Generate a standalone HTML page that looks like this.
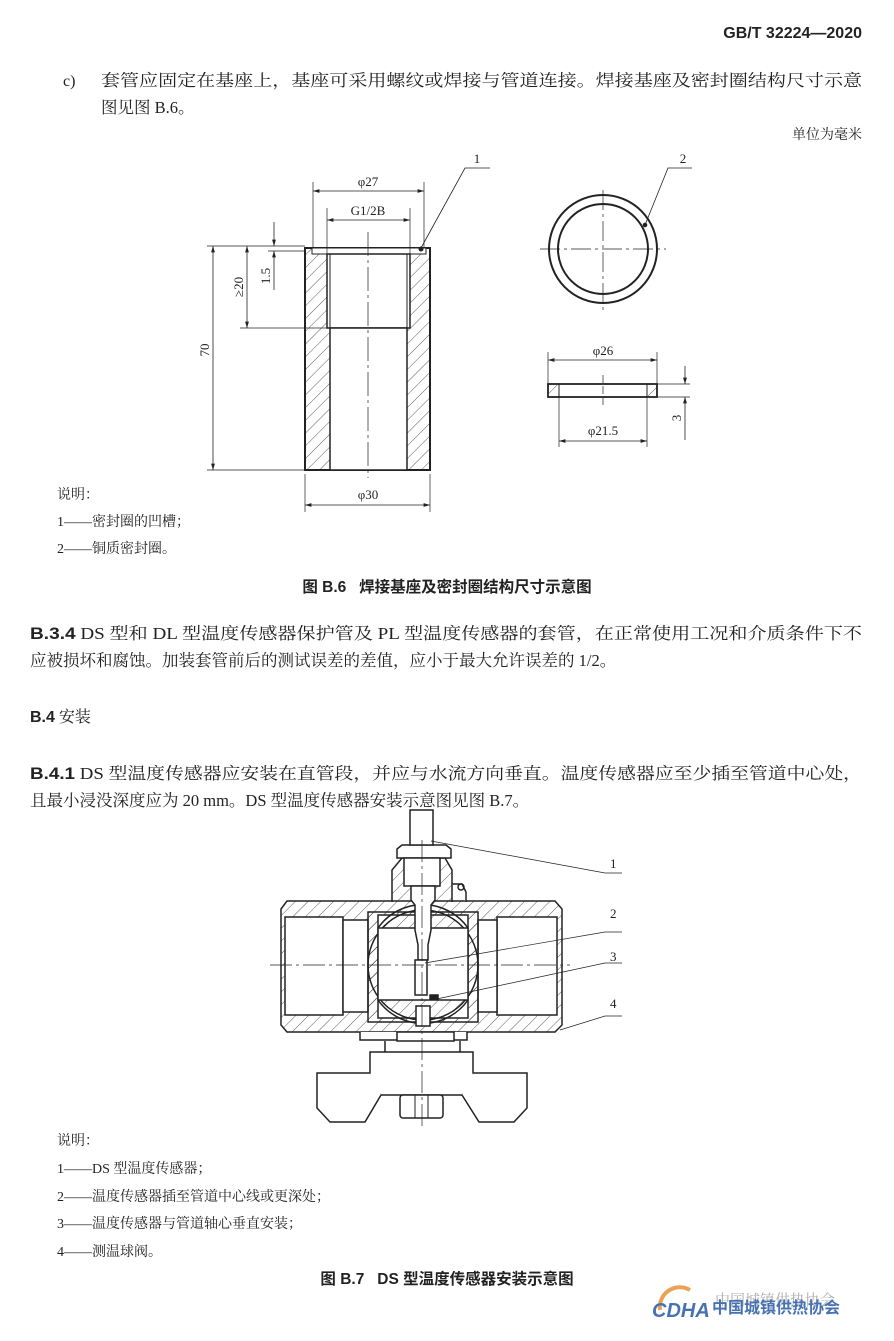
<!DOCTYPE html>
<html><head><meta charset="utf-8"><style>
html,body{margin:0;padding:0;background:#fff}
svg{display:block}
text{font-family:"Liberation Serif","Noto Serif CJK SC","Noto Sans CJK SC",serif;fill:#222}
.b{font-family:"Liberation Sans","Noto Sans CJK SC",sans-serif;font-weight:bold}
.s{font-family:"Liberation Serif","Noto Sans CJK SC",serif}
</style></head><body>
<svg width="894" height="1341" viewBox="0 0 894 1341" xmlns="http://www.w3.org/2000/svg">
<defs>
<pattern id="h" width="9" height="9" patternUnits="userSpaceOnUse" patternTransform="rotate(45)">
<line x1="0" y1="0" x2="0" y2="9" stroke="#333" stroke-width="0.8"/></pattern>
<marker id="a" viewBox="0 0 10 10" refX="10" refY="5" markerWidth="8" markerHeight="8" orient="auto-start-reverse"><path d="M0,2 L10,5 L0,8z" fill="#222"/></marker>
</defs>

<text x="862" y="38" text-anchor="end" class="b" font-size="16">GB/T 32224—2020</text>
<text x="63" y="86" font-size="16">c)</text>
<text x="101" y="86" font-size="16.5" textLength="761" lengthAdjust="spacingAndGlyphs">套管应固定在基座上，基座可采用螺纹或焊接与管道连接。焊接基座及密封圈结构尺寸示意</text>
<text x="101" y="113" font-size="16.5">图见图 B.6。</text>
<text x="862" y="139" text-anchor="end" font-size="14">单位为毫米</text>

<!-- left part B.6 -->
<g stroke="#222" fill="none" stroke-width="1">
<rect x="305" y="248" width="125" height="222" fill="url(#h)" stroke-width="2"/>
<rect x="312" y="248" width="114" height="6" fill="#fff"/>
<rect x="327" y="254" width="83" height="74" fill="#fff" stroke-width="1.5"/>
<rect x="330" y="328" width="77" height="142" fill="#fff" stroke-width="1.5"/>
<line x1="330" y1="254" x2="330" y2="328"/><line x1="407" y1="254" x2="407" y2="328"/>
<line x1="368" y1="232" x2="368" y2="478" stroke-dasharray="24,4,3,4" stroke-width="0.7"/>
<circle cx="421" cy="249" r="2" fill="#222"/>
<!-- dims -->
<line x1="313" y1="182" x2="313" y2="248" stroke-width="0.7"/><line x1="424" y1="182" x2="424" y2="248" stroke-width="0.7"/>
<line x1="313" y1="191" x2="424" y2="191" marker-start="url(#a)" marker-end="url(#a)" stroke-width="0.8"/>
<line x1="327" y1="208" x2="327" y2="254" stroke-width="0.7"/><line x1="410" y1="208" x2="410" y2="254" stroke-width="0.7"/>
<line x1="327" y1="220" x2="410" y2="220" marker-start="url(#a)" marker-end="url(#a)" stroke-width="0.8"/>
<line x1="207" y1="246" x2="305" y2="246" stroke-width="0.7"/>
<line x1="268" y1="251" x2="305" y2="251" stroke-width="0.7"/>
<line x1="240" y1="328" x2="327" y2="328" stroke-width="0.7"/>
<line x1="207" y1="470" x2="305" y2="470" stroke-width="0.7"/>
<line x1="213" y1="246" x2="213" y2="470" marker-start="url(#a)" marker-end="url(#a)" stroke-width="0.8"/>
<line x1="247" y1="246" x2="247" y2="328" marker-start="url(#a)" marker-end="url(#a)" stroke-width="0.8"/>
<line x1="274" y1="222" x2="274" y2="246" marker-end="url(#a)" stroke-width="0.8"/>
<line x1="274" y1="290" x2="274" y2="251" marker-end="url(#a)" stroke-width="0.8"/>
<line x1="305" y1="474" x2="305" y2="512" stroke-width="0.7"/><line x1="430" y1="474" x2="430" y2="512" stroke-width="0.7"/>
<line x1="305" y1="505" x2="430" y2="505" marker-start="url(#a)" marker-end="url(#a)" stroke-width="0.8"/>
<polyline points="421,248 465,168 490,168" stroke-width="0.8"/>
<!-- ring -->
<circle cx="603" cy="249" r="54" stroke-width="2"/>
<circle cx="603" cy="249" r="45" stroke-width="2"/>
<line x1="540" y1="249" x2="666" y2="249" stroke-dasharray="20,4,3,4" stroke-width="0.7"/>
<line x1="603" y1="190" x2="603" y2="310" stroke-dasharray="20,4,3,4" stroke-width="0.7"/>
<polyline points="645,225 668,168 692,168" stroke-width="0.8"/>
<circle cx="645" cy="225" r="1.8" fill="#222"/>
<rect x="548" y="384" width="109" height="13" stroke-width="1.8"/>
<rect x="549" y="385" width="10" height="11" fill="url(#h)" stroke="none"/>
<rect x="647" y="385" width="9" height="11" fill="url(#h)" stroke="none"/>
<line x1="559" y1="384" x2="559" y2="397"/><line x1="647" y1="384" x2="647" y2="397"/>
<line x1="603" y1="375" x2="603" y2="405" stroke-dasharray="8,3" stroke-width="0.7"/>
<line x1="548" y1="352" x2="548" y2="384" stroke-width="0.7"/><line x1="657" y1="352" x2="657" y2="384" stroke-width="0.7"/>
<line x1="548" y1="360" x2="657" y2="360" marker-start="url(#a)" marker-end="url(#a)" stroke-width="0.8"/>
<line x1="559" y1="397" x2="559" y2="447" stroke-width="0.7"/><line x1="647" y1="397" x2="647" y2="447" stroke-width="0.7"/>
<line x1="559" y1="441" x2="647" y2="441" marker-start="url(#a)" marker-end="url(#a)" stroke-width="0.8"/>
<line x1="657" y1="384" x2="690" y2="384" stroke-width="0.7"/><line x1="657" y1="397" x2="690" y2="397" stroke-width="0.7"/>
<line x1="685" y1="366" x2="685" y2="384" marker-end="url(#a)" stroke-width="0.8"/>
<line x1="685" y1="440" x2="685" y2="397" marker-end="url(#a)" stroke-width="0.8"/>
</g>
<g font-size="13">
<text x="368" y="186" text-anchor="middle">φ27</text>
<text x="368" y="215" text-anchor="middle">G1/2B</text>
<text x="368" y="499" text-anchor="middle">φ30</text>
<text x="477" y="163" text-anchor="middle">1</text>
<text x="683" y="163" text-anchor="middle">2</text>
<text x="603" y="355" text-anchor="middle">φ26</text>
<text x="603" y="435" text-anchor="middle">φ21.5</text>
<text transform="translate(209,350) rotate(-90)" text-anchor="middle">70</text>
<text transform="translate(243,287) rotate(-90)" text-anchor="middle">≥20</text>
<text transform="translate(270,276) rotate(-90)" text-anchor="middle">1.5</text>
<text transform="translate(681,418) rotate(-90)" text-anchor="middle">3</text>
</g>
<g font-size="14">
<text x="57" y="499">说明：</text>
<text x="57" y="526">1——密封圈的凹槽；</text>
<text x="57" y="553">2——铜质密封圈。</text>
</g>
<text x="447" y="592" text-anchor="middle" class="b" font-size="15.5" xml:space="preserve">图 B.6   焊接基座及密封圈结构尺寸示意图</text>

<text x="30" y="639" font-size="16.5" textLength="832" lengthAdjust="spacingAndGlyphs"><tspan class="b">B.3.4</tspan> DS 型和 DL 型温度传感器保护管及 PL 型温度传感器的套管，在正常使用工况和介质条件下不</text>
<text x="30" y="666" font-size="16.5">应被损坏和腐蚀。加装套管前后的测试误差的差值，应小于最大允许误差的 1/2。</text>
<text x="30" y="722" font-size="16"><tspan class="b">B.4</tspan>   安装</text>
<text x="30" y="779" font-size="16.5" textLength="832" lengthAdjust="spacingAndGlyphs"><tspan class="b">B.4.1</tspan> DS 型温度传感器应安装在直管段，并应与水流方向垂直。温度传感器应至少插至管道中心处，</text>
<text x="30" y="806" font-size="16.5">且最小浸没深度应为 20 mm。DS 型温度传感器安装示意图见图 B.7。</text>

<!-- valve B.7 -->
<g stroke="#222" fill="none" stroke-width="1.5">
<path d="M287,901 L555,901 L562,909 L562,1025 L555,1032 L287,1032 L281,1025 L281,909 Z" fill="url(#h)"/>
<rect x="285" y="917" width="58" height="98" fill="#fff"/>
<rect x="497" y="917" width="60" height="98" fill="#fff"/>
<rect x="343" y="920" width="25" height="92" fill="#fff"/>
<rect x="478" y="920" width="19" height="92" fill="#fff"/>
<rect x="368" y="912" width="110" height="110" fill="url(#h)"/>
<rect x="378" y="915" width="90" height="103" fill="#fff"/>
<circle cx="423" cy="965" r="55" fill="url(#h)"/>
<rect x="378" y="928" width="90" height="72" fill="#fff"/>
<path d="M378,928 A55,55 0 0 1 468,928 M378,1000 A55,55 0 0 0 468,1000" />
<path d="M392,902 L392,870 L402,858 L445,858 L452,870 L452,902" fill="url(#h)"/>
<path d="M452,884 L462,884 L466,892 L466,902" fill="#fff"/>
<circle cx="461" cy="887" r="3"/>
<path d="M397,858 L397,849 L402,845 L446,845 L451,849 L451,858 Z" fill="#fff"/>
<rect x="410" y="810" width="23" height="35" fill="#fff"/>
<rect x="404" y="858" width="36" height="28" fill="#fff"/>
<path d="M411,886 L411,900 L415,905 L415,930 L418,945 L418,960 L428,960 L428,945 L431,930 L431,905 L435,900 L435,886 Z" fill="#fff"/>
<rect x="415" y="960" width="12" height="35" fill="#fff"/>
<rect x="430" y="995" width="8" height="4" fill="#222"/>
<rect x="416" y="1006" width="14" height="20" fill="#fff"/>
<path d="M360,1032 L360,1040 L467,1040 L467,1032" fill="#fff"/>
<rect x="397" y="1032" width="57" height="9" fill="#fff"/>
<path d="M385,1041 L385,1052 M460,1041 L460,1052"/>
<path d="M370,1052 L473,1052 L473,1085 L462,1095 L381,1095 L370,1085 Z" fill="#fff"/>
<path d="M370,1073 L317,1073 L317,1108 L330,1122 L365,1122 L381,1095" fill="#fff"/>
<path d="M473,1073 L527,1073 L527,1108 L514,1122 L479,1122 L462,1095" fill="#fff"/>
<rect x="400" y="1095" width="43" height="23" rx="3" fill="#fff"/>
<line x1="415" y1="1095" x2="415" y2="1118" stroke-width="1"/><line x1="428" y1="1095" x2="428" y2="1118" stroke-width="1"/>
</g>
<g stroke="#222" fill="none" stroke-width="0.7">
<line x1="270" y1="965" x2="570" y2="965" stroke-dasharray="22,4,3,4"/>
<line x1="422" y1="840" x2="422" y2="1130" stroke-dasharray="22,4,3,4"/>
<polyline points="431,841 605,873 622,873"/>
<polyline points="425,963 605,932 622,932"/>
<polyline points="432,1000 605,963 622,963"/>
<polyline points="560,1030 605,1016 622,1016"/>
</g>
<g font-size="13">
<text x="610" y="868">1</text><text x="610" y="918">2</text><text x="610" y="961">3</text><text x="610" y="1008">4</text>
</g>
<g font-size="14">
<text x="57" y="1145">说明：</text>
<text x="57" y="1173">1——DS 型温度传感器；</text>
<text x="57" y="1201">2——温度传感器插至管道中心线或更深处；</text>
<text x="57" y="1228">3——温度传感器与管道轴心垂直安装；</text>
<text x="57" y="1256">4——测温球阀。</text>
</g>
<text x="447" y="1284" text-anchor="middle" class="b" font-size="15.5" xml:space="preserve">图 B.7   DS 型温度传感器安装示意图</text>

<!-- watermark -->
<g opacity="0.8">
<path d="M660,1310 A20,20 0 0 1 690,1290" stroke="#e98a2a" stroke-width="4" fill="none"/>
<text x="652" y="1317" class="b" font-size="20" font-style="italic" fill="#1a4fa0" style="fill:#1a4fa0">CDHA</text>
<text x="715" y="1305" font-size="15" style="fill:#999">中国城镇供热协会</text>
<text x="712" y="1313" class="b" font-size="16" style="fill:#1a4fa0">中国城镇供热协会</text>
</g>
</svg>
</body></html>
